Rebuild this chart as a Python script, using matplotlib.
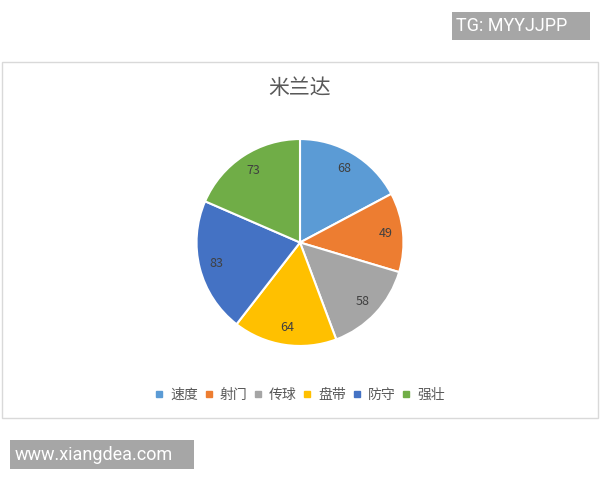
import matplotlib
matplotlib.use("Agg")
import matplotlib.pyplot as plt
from matplotlib.patches import Rectangle
from matplotlib.lines import Line2D

plt.rcParams['font.family'] = ['Noto Sans CJK SC', 'DejaVu Sans']

title = "米兰达"
categories = ["速度", "射门", "传球", "盘带", "防守", "强壮"]
values = [68, 49, 58, 64, 83, 73]
colors = ["#5B9BD5", "#ED7D31", "#A5A5A5", "#FFC000", "#4472C4", "#70AD47"]

W, H = 600, 480
fig = plt.figure(figsize=(6, 4.8), dpi=100)
fig.patch.set_facecolor("white")

def px(x, y):
    return x / W, 1 - y / H

# chart frame
fig.patches.append(Rectangle(px(2, 418), 596 / W, 356 / H, transform=fig.transFigure,
                             facecolor="none", edgecolor="#d9d9d9", lw=1))

# pie
cx, cy, r = 300, 242.5, 104.5
ax = fig.add_axes([(cx - r) / W, 1 - (cy + r) / H, 2 * r / W, 2 * r / H])
wedges, texts = ax.pie(values, colors=colors, startangle=90, counterclock=False,
                       labels=[str(v) for v in values], labeldistance=0.83,
                       wedgeprops=dict(edgecolor="white", linewidth=1.5),
                       textprops=dict(color="#404040", fontsize=9))
for t in texts:
    t.set_ha("center")
    t.set_va("center")
ax.set_xlim(-1.01, 1.01)
ax.set_ylim(-1.01, 1.01)
ax.axis("off")

fig.text(*px(300, 88), title, ha="center", va="center", fontsize=15, color="#595959")

# legend
handles = [Line2D([], [], marker="s", linestyle="none", markersize=5,
                  markerfacecolor=c, markeredgecolor=c) for c in colors]
fig.legend(handles, categories, loc="center", bbox_to_anchor=px(300, 395),
           ncol=6, frameon=False, fontsize=10, handlelength=0.6, handletextpad=0.5,
           columnspacing=0.45, labelcolor="#595959")

# watermarks
fig.patches.append(Rectangle(px(452, 40), 138 / W, 28 / H, transform=fig.transFigure,
                             facecolor="#a6a6a6", edgecolor="none"))
fig.text(*px(456, 26), "TG: MYYJJPP", ha="left", va="center", fontsize=13,
         color="white", family="Roboto")
fig.patches.append(Rectangle(px(10, 469), 184 / W, 29 / H, transform=fig.transFigure,
                             facecolor="#a6a6a6", edgecolor="none"))
fig.text(*px(15, 455), "www.xiangdea.com", ha="left", va="center", fontsize=13,
         color="white", family="Roboto")

fig.savefig("out.png", dpi=100, facecolor="white")
